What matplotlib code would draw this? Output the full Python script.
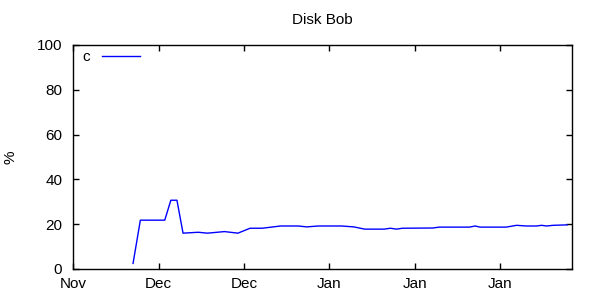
import numpy as np
import matplotlib
matplotlib.use("Agg")
import matplotlib.pyplot as plt
import matplotlib.dates as mdates
import pandas as pd

plt.rcParams['font.family'] = ['Liberation Sans', 'DejaVu Sans']

start = pd.Timestamp("2012-11-20")

# days after start, disk usage in %
days = [9.8, 11, 15, 16, 17, 18, 20.5, 22, 24.8, 27, 29, 31, 34, 36.9, 38.3,
        40.2, 44, 46, 47.8, 51, 52, 53, 54, 59, 60, 65, 65.9, 66.7, 71, 72.7,
        74.3, 76, 76.8, 77.6, 78.7, 81]
usage = [2.5, 21.8, 21.8, 30.7, 30.7, 16.0, 16.4, 16.0, 16.7, 16.0, 18.2, 18.2,
         19.2, 19.2, 18.8, 19.2, 19.2, 18.8, 17.8, 17.8, 18.2, 17.8, 18.2, 18.3,
         18.7, 18.7, 19.2, 18.7, 18.7, 19.5, 19.2, 19.2, 19.5, 19.2, 19.5, 19.7]
tick_days = [0, 14, 28, 42, 56, 70]

dates = start + pd.to_timedelta(days, unit="D")
ticks = start + pd.to_timedelta(tick_days, unit="D")

fig = plt.figure(figsize=(6, 3), dpi=100)
ax = fig.add_axes([73.3 / 600, 1 - 269 / 300, (572 - 73.3) / 600, (269 - 45) / 300])

ax.plot(dates, usage, color=(0, 0, 1), lw=1, label="c")

ax.set_xlim(start, start + pd.Timedelta(days=81.8))
ax.set_ylim(0, 100)
ax.set_xticks(ticks)
ax.xaxis.set_major_formatter(mdates.DateFormatter("%b"))
ax.set_yticks([0, 20, 40, 60, 80, 100])

ax.tick_params(direction="in", length=4, width=1, top=True, right=True,
               labelsize=11, color="black")
ax.tick_params(axis="y", pad=8)
ax.tick_params(axis="x", pad=6)
for s in ax.spines.values():
    s.set_linewidth(1)

ax.set_title("Disk Bob", fontsize=11, pad=15)
ax.set_ylabel("%", fontsize=11, labelpad=14)

ax.legend(loc="upper left", frameon=False, markerfirst=False, fontsize=11,
          handlelength=2.5, handletextpad=0.8, borderaxespad=0.1,
          bbox_to_anchor=(0.003, 1.012))

fig.savefig("out.png", dpi=100)
